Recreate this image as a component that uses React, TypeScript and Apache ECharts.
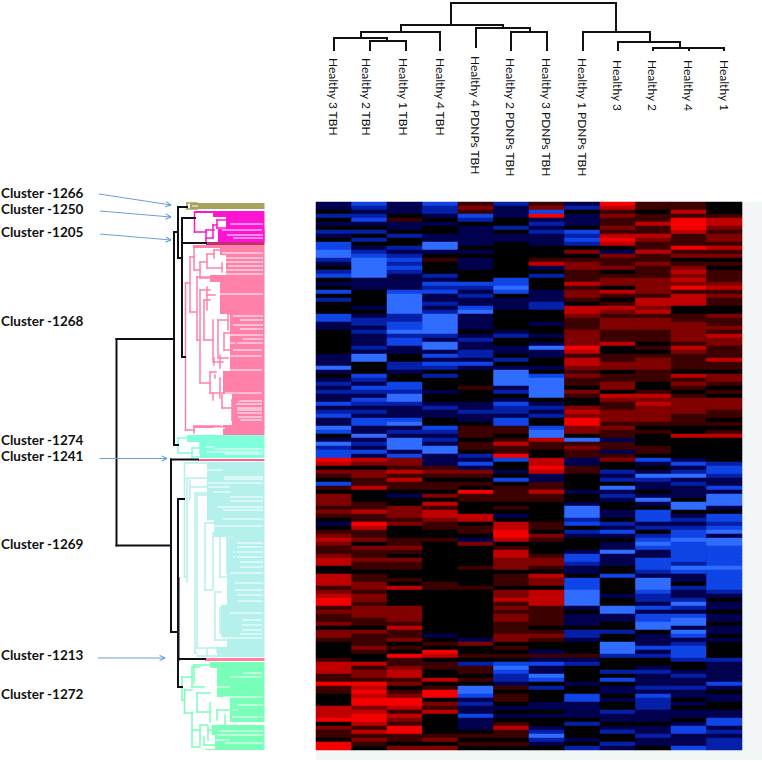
import React, { useEffect, useRef } from "react";
import * as echarts from "echarts";

const sampleLabels = [
  "Healthy 3 TBH", "Healthy 2 TBH", "Healthy 1 TBH", "Healthy 4 TBH",
  "Healthy 4 PDNPs TBH", "Healthy 2 PDNPs TBH", "Healthy 3 PDNPs TBH", "Healthy 1 PDNPs TBH",
  "Healthy 3", "Healthy 2", "Healthy 4", "Healthy 1",
];
const sampleLabelX = [333, 366, 403, 440, 475, 510, 546, 582, 617, 652, 688, 724];
const sampleLabelTop = [58, 58, 58, 58, 56, 58, 58, 58, 60, 60, 60, 60];

// Expression, one character per row: d c b a = strong to weak blue, 0 = black, 1 2 3 4 = weak to strong red.
const col01 = "aa0b0a0ba0ccddba0bc0a0c0b000ccaa0" + "00000aaada0ababaacabcaadc0adbcc4302" + "10c102221210a012321123300333123" + "4412" + "1120221000013331141100033340211044";
const col02 = "cbabca0b0b0abcdddddaaa0000a0abbab" + "aaabadd000cbacbacbabaccaadabaca3202" + "21130001131143112021121101122122122" + "2110211121003122143434423443131210";
const col03 = "aaa01aa0b00babcbcbaaaacdddddbbccd" + "bccaa00bba00ccbddbaaacdabadddac2213" + "13110a00222120001121021100103000022" + "2213112010411233120124431321441102";
const col04 = "cbba0a00aadda01000bacbcaababddddd" + "baddacacb0b000a00abaa00cbabaddaaa12" + "10110203133211001000000000011000000" + "00000a0104301100301440213000001202";
const col05 = "121cb0aaaaa0a0aaa000cbabaacdaaaa0" + "abaabbaca00001000aabaa01110110baca2" + "1010411000330110a200000100001000000" + "000000a20010b11010ddcabaacaaa01010";
const col06 = "baaa00b0aa000000000ccdc0aaa00000a" + "b00aa0b0addddab0acbbacc11013114c00a" + "0c01111010a033443013322201110223121" + "221112201010cdcbba10110a0a01311010";
const col07 = "12c4ababaaa00013a0b000aaabb000a00" + "a0adaa00a0cddddd0abab00cdd311003343" + "aa113110000011021000122103220333311" + "111012100a1acaadc0b000aa0a00abdba0";
const col08 = "ab0aaa0cbcb0201221113122103321112" + "22243133212110210023244220d1211aa11" + "0000a00adddbc0ba000accbaa0cccdddda0" + "aaa0bba0001ab0000a00ccaaaa0b000a0b";
const col09 = "431211213430a21120122031013212221" + "11300112201122032112221211a11a1200b" + "ab0daba00aa0baca0aadaaa00c0000a00dd" + "aa00b00dddb000b0c0aa0a00baa0ab00ba";
const col10 = "110113113211311211122221332312221" + "11010122211100132322221010001 10ca0a".replace(" ", "") + "dbaa0ada0cccab0bcdcaacccbadddcbbaca" + "ccdd0aaacab00abaaabacbbbaaa0aabaa0";
const col11 = "113144431114120123232413330011222" + "2213211110312101222211100300000acab" + "dabaaa0dd0ababccdcccccbdcaa0baabdba" + "cddadcabcccb00abaabaa0a0aa0accaaac";
const col12 = "000133212213120101112312110021121" + "32211131102210102221101013000000bcc" + "baacaddda0ccbcdaddcccccdcccccba0aa0" + "aa0aa0a0000baaaaaca0aa00aaccababbb";
const columns = [col01, col02, col03, col04, col05, col06, col07, col08, col09, col10, col11, col12];
const rowCount = 137;
const levelOf: Record<string, number> = { d: -4, c: -3, b: -2, a: -1, "0": 0, "1": 1, "2": 2, "3": 3, "4": 4 };

// Top dendrogram links: x1, y1, x2, y2.
const sampleTree = [
  [451, 3, 616, 3], [451, 3, 451, 25], [616, 3, 616, 32],
  [401, 25, 503, 25], [401, 25, 401, 32], [503, 25, 503, 28],
  [361, 32, 440, 32], [440, 32, 440, 50], [361, 32, 361, 38],
  [334, 38, 387, 38], [334, 38, 334, 50], [387, 38, 387, 41],
  [370, 41, 406, 41], [370, 41, 370, 50], [406, 41, 406, 50],
  [476, 28, 530, 28], [476, 28, 476, 47], [530, 28, 530, 32],
  [511, 32, 547, 32], [511, 32, 511, 50], [547, 32, 547, 50],
  [583, 32, 650, 32], [583, 32, 583, 50], [650, 32, 650, 42],
  [618, 42, 680, 42], [618, 42, 618, 50], [680, 42, 680, 48],
  [653, 48, 724, 48], [653, 48, 653, 50], [689, 48, 689, 50], [724, 48, 724, 50],
];

// Row dendrogram backbone: x1, y1, x2, y2.
const backboneTree = [
  [116.5, 339, 174, 339], [116.5, 339, 116.5, 545.5], [116.5, 545.5, 171, 545.5],
  [174, 232, 174, 339], [174, 339, 174, 445], [174, 232, 178, 232], [174, 445, 178, 445],
  [178, 207, 178, 258], [178, 207, 187, 207], [178, 258, 182, 258],
  [182, 218, 182, 357], [182, 218, 195, 218], [182, 357, 185, 357], [183, 243, 206, 243],
  [171, 459.5, 198, 459.5], [171, 459.5, 171, 632], [171, 632, 178, 632],
  [178, 499, 178, 687], [178, 499, 184, 499], [178, 659, 205, 659], [178, 687, 182, 687],
  [178.5, 578, 178.5, 660],
];

const olive = "#a8a35a";
const oliveBlocks = [[190, 203, 209]];
const oliveGaps: number[][] = [[192, 206, 198]];
const oliveLinks = [[187, 203, 197, 203], [187, 209, 197, 209], [187, 203, 187, 209]];

const magenta = "#ff14d2";
const magentaBlocks = [[195, 211, 213], [213, 213, 217], [226, 217, 242], [218, 229, 242]];
const magentaGaps = [[200, 214, 210], [230, 224, 263], [222, 230, 262], [227, 235, 263], [233, 238, 263]];
const magentaLinks = [
  [194.5, 212, 194.5, 232], [194.5, 232, 206, 232], [206, 230, 206, 243], [206, 230, 214, 230],
  [206, 238, 213, 238], [213, 225, 213, 238], [213, 225, 217, 225], [217, 220, 217, 228],
  [217, 220, 227, 220], [217, 228, 230, 228],
];

const darkPink = "#c03070";
const darkPinkBlocks = [[206, 242, 245]];

const pink = "#ff80a8";
const pinkBlocks = [
  [193, 245, 248], [220, 248, 255], [226, 255, 275], [210, 275, 282], [220, 282, 314],
  [230, 314, 371], [223, 371, 394], [232, 394, 425], [223, 425, 435], [194, 426, 428],
];
const pinkGaps = [
  [222, 253, 263], [226, 258, 263], [226, 262, 263], [228, 266, 263], [225, 270, 263], [225, 274, 263],
  [207, 294, 263], [233, 316, 263], [240, 320, 263], [233, 325, 263], [240, 329, 263], [227, 335, 263],
  [243, 339, 263], [226, 343, 263], [233, 350, 262], [230, 356, 262], [213, 370, 262], [225, 393, 262],
  [238, 401, 262], [236, 404, 262], [237, 408, 262], [237, 410, 262], [237, 413, 262], [238, 417, 262],
  [240, 420, 262], [214, 428, 225],
];
const pinkLinks = [
  [185.5, 283, 185.5, 430], [185.5, 283, 190, 283], [185.5, 430, 194, 430],
  [190, 257, 190, 312], [190, 257, 194, 257], [190, 312, 196, 312],
  [194, 247, 194, 270], [194, 247, 200, 247], [194, 270, 200, 270],
  [200, 262, 200, 278], [200, 262, 207, 262], [200, 278, 210, 278],
  [207, 254, 207, 268], [207, 254, 214, 254], [207, 268, 222, 268],
  [214, 250, 214, 258], [214, 250, 222, 250], [222, 263, 222, 272],
  [197, 277, 197, 340], [197, 277, 210, 277], [197, 340, 200, 340],
  [200, 290, 200, 383], [200, 383, 210, 383], [200, 290, 210, 290],
  [204, 300, 204, 340], [204, 300, 210, 300], [204, 340, 213, 340],
  [207, 287, 207, 310], [207, 295, 215, 295],
  [213, 320, 213, 362], [218, 320, 218, 358], [218, 320, 228, 320], [218, 358, 228, 358],
  [224, 333, 224, 350], [224, 333, 233, 333], [224, 350, 232, 350],
  [228, 312, 228, 330], [228, 314, 235, 314], [236, 340, 236, 347],
  [214, 358, 214, 365], [214, 362, 223, 362], [220, 355, 220, 368],
  [210, 372, 210, 393], [210, 372, 216, 372], [210, 393, 220, 393], [215, 375, 215, 378],
  [220, 378, 220, 398], [213, 393, 213, 400], [222, 393, 222, 408], [222, 408, 232, 408],
  [232, 400, 232, 420], [232, 400, 240, 400], [232, 420, 240, 420], [236, 407, 236, 413],
  [194, 426, 194, 433], [194, 426, 220, 426],
];

const aqua = "#80ffdc";
const aquaBlocks = [[187, 435, 442], [200, 442, 458]];
const aquaGaps = [[206, 447, 214], [214, 449, 263], [207, 452, 263], [225, 454, 263]];
const aquaLinks = [
  [178, 438, 178, 453], [178, 438, 187, 438], [178, 453, 192, 453], [192, 448, 192, 458],
  [192, 448, 200, 448], [192, 457, 205, 457], [200, 443, 200, 453],
];

const rose = "#ff6088";
const roseBlocks = [[198, 459, 461]];

const paleCyan = "#b4f0ec";
const paleCyanBlocks = [[207, 462, 520], [214, 520, 537], [227, 537, 605], [221, 605, 637], [227, 637, 647], [217, 647, 657]];
const paleCyanGaps = [
  [207, 470, 223], [224, 477, 263], [224, 479, 263], [208, 483, 263], [208, 487, 230], [213, 492, 231],
  [230, 497, 263], [230, 501, 263], [217, 507, 263], [223, 510, 263], [223, 519, 263], [214, 526, 263],
  [227, 537, 233], [237, 543, 263], [237, 547, 263], [233, 552, 263], [233, 557, 263], [240, 562, 263],
  [240, 567, 263], [230, 573, 263], [235, 583, 263], [235, 590, 263], [237, 595, 263], [237, 601, 263],
  [230, 613, 263], [242, 620, 262], [242, 625, 262], [242, 630, 262], [240, 634, 262], [225, 638, 262],
];
const paleCyanLinks = [
  [184.5, 463, 184.5, 577], [184.5, 463, 207, 463], [184.5, 577, 187, 577],
  [187, 478, 187, 582], [187, 478, 207, 478], [190, 480, 190, 500], [190, 487, 207, 487],
  [195, 493, 195, 653], [195, 493, 213, 493], [195, 653, 197, 653], [197, 495, 197, 648], [197, 495, 214, 495],
  [205, 523, 205, 590], [205, 523, 214, 523], [205, 590, 213, 590], [208, 500, 208, 520], [208, 510, 222, 510],
  [213, 533, 213, 590], [213, 533, 220, 533], [220, 530, 220, 577], [220, 530, 227, 530], [220, 577, 232, 577],
  [227, 537, 227, 573], [227, 537, 232, 537], [232, 543, 232, 567], [236, 545, 236, 567], [232, 555, 240, 555],
  [215, 592, 215, 640], [215, 592, 221, 592], [215, 640, 227, 640], [220, 608, 220, 633], [220, 608, 238, 608],
  [224, 617, 224, 638], [224, 617, 238, 617], [238, 617, 238, 633],
  [197, 648, 217, 648], [197, 656, 262, 656], [207, 650, 207, 656], [217, 647, 217, 652],
];

const salmon = "#ff80a0";
const salmonBlocks = [[205, 658, 661]];

const green = "#78ffb8";
const greenBlocks = [[210, 662, 668], [217, 668, 697], [230, 697, 722], [212, 725, 735], [215, 735, 750], [205, 749, 750]];
const greenGaps = [
  [243, 673, 262], [230, 677, 262], [200, 682, 215], [205, 687, 230], [223, 697, 263], [237, 705, 263],
  [230, 710, 238], [232, 717, 263], [217, 731, 263], [217, 735, 263], [205, 740, 230], [225, 743, 263],
];
const greenLinks = [
  [182, 677, 182, 700], [182, 677, 192, 677], [182, 700, 184.5, 700],
  [192, 667, 192, 687], [192, 667, 200, 667], [192, 687, 204, 687], [194, 665, 194, 683], [194, 665, 210, 665],
  [184.5, 690, 184.5, 713], [184.5, 690, 192, 690], [184.5, 713, 192, 713],
  [192, 713, 192, 747], [192, 747, 200, 747], [197, 693, 197, 712], [197, 693, 210, 693], [197, 712, 210, 712],
  [210, 703, 210, 722], [217, 710, 217, 720], [217, 710, 232, 710], [225, 715, 225, 727],
  [200, 725, 200, 745], [200, 725, 208, 725], [208, 727, 208, 740], [208, 730, 217, 730],
  [204, 737, 204, 745], [204, 745, 225, 745], [192, 730, 200, 730],
];

const clusterNames = [
  "Cluster -1266", "Cluster -1250", "Cluster -1205", "Cluster -1268", "Cluster -1274",
  "Cluster -1241", "Cluster -1269", "Cluster -1213", "Cluster -1272",
];
const clusterRows = [192.5, 209, 232, 321, 440, 456, 544, 655, 693.5];

// Pointers from the cluster names to the dendrogram: x1, y1, x2, y2.
const pointers = [
  [99, 194, 171, 205], [100, 211, 171, 217], [100, 234, 171, 240],
  [99.5, 458.5, 167, 458.5], [98, 658, 165, 658],
];

const leafEnd = 264.5;

function lineSeries(name: string, links: number[][], color: string, width: number, z: number) {
  return {
    type: "custom", name, xAxisIndex: 1, yAxisIndex: 1, z, silent: true, clip: false, data: links,
    renderItem: (_p: any, api: any) => {
      const a = api.coord([api.value(0), api.value(1)]);
      const b = api.coord([api.value(2), api.value(3)]);
      return { type: "line", shape: { x1: a[0], y1: a[1], x2: b[0], y2: b[1] }, style: { stroke: color, lineWidth: width, lineCap: "square" } };
    },
  };
}

function blockSeries(name: string, blocks: number[][], color: string, z: number) {
  return {
    type: "custom", name, xAxisIndex: 1, yAxisIndex: 1, z, silent: true, clip: false, data: blocks,
    renderItem: (_p: any, api: any) => {
      const a = api.coord([api.value(0), api.value(1)]);
      const b = api.coord([leafEnd, api.value(2)]);
      return { type: "rect", shape: { x: a[0], y: a[1], width: b[0] - a[0], height: b[1] - a[1] }, style: { fill: color } };
    },
  };
}

function gapSeries(name: string, gaps: number[][], z: number) {
  const links = gaps.map((g) => [g[0], g[1], g[2], g[1]]);
  return {
    type: "custom", name, xAxisIndex: 1, yAxisIndex: 1, z, silent: true, clip: false, data: links,
    renderItem: (_p: any, api: any) => {
      const a = api.coord([api.value(0), api.value(1)]);
      const b = api.coord([api.value(2), api.value(3)]);
      return { type: "line", shape: { x1: a[0], y1: a[1], x2: b[0], y2: b[1] }, style: { stroke: "#ffffff", lineWidth: 1 } };
    },
  };
}

function cluster(name: string, color: string, blocks: number[][], gaps: number[][], links: number[][]) {
  return [
    blockSeries(name + " leaves", blocks, color, 3),
    gapSeries(name + " gaps", gaps, 4),
    lineSeries(name + " links", links, color, 1.5, 5),
  ];
}

export default function App() {
  const ref = useRef<HTMLDivElement>(null);
  useEffect(() => {
    const chart = echarts.init(ref.current!, undefined, { renderer: "svg" });
    const cells: number[][] = [];
    columns.forEach((text, c) => {
      for (let r = 0; r < rowCount && r < text.length; r++) cells.push([c, r, levelOf[text[r]] ?? 0]);
    });
    const rows = Array.from({ length: rowCount }, (_, i) => String(i));
    chart.setOption({
      animation: false,
      backgroundColor: "#ffffff",
      graphic: [
        { type: "rect", z: -1, shape: { x: 742, y: 202, width: 20, height: 558 }, style: { fill: "#f3f6f6" } },
        { type: "rect", z: -1, shape: { x: 316, y: 750, width: 426, height: 10 }, style: { fill: "#f3f6f6" } },
      ],
      grid: [
        { left: 316, top: 202, width: 426, height: 548, show: true, backgroundColor: "#000000", borderWidth: 0, outerBoundsMode: "none" },
        { left: 0, top: 0, width: 762, height: 762, outerBoundsMode: "none" },
      ],
      xAxis: [
        { type: "category", gridIndex: 0, position: "top", data: sampleLabels, show: false },
        { type: "value", gridIndex: 1, min: 0, max: 762, show: false },
      ],
      yAxis: [
        { type: "category", gridIndex: 0, inverse: true, data: rows, show: false },
        { type: "value", gridIndex: 1, min: 0, max: 762, inverse: true, show: false },
      ],
      visualMap: {
        show: false, type: "continuous", seriesIndex: 0, dimension: 2, min: -4, max: 4,
        inRange: { color: ["#2f6cff", "#0f44e6", "#0520a8", "#00004e", "#000000", "#3c0000", "#800000", "#c00000", "#f40000"] },
      },
      series: [
        { type: "heatmap", name: "Expression", xAxisIndex: 0, yAxisIndex: 0, data: cells, progressive: 0, silent: true, itemStyle: { borderWidth: 0 }, emphasis: { disabled: true } },
        lineSeries("Sample tree", sampleTree, "#111111", 2, 6),
        {
          type: "custom", name: "Sample names", xAxisIndex: 1, yAxisIndex: 1, z: 9, silent: true, clip: false,
          data: sampleLabelX.map((x, i) => [x, sampleLabelTop[i]]),
          renderItem: (p: any, api: any) => {
            const a = api.coord([api.value(0), api.value(1)]);
            return {
              type: "text", x: a[0], y: a[1], rotation: -Math.PI / 2,
              style: { text: sampleLabels[p.dataIndex], fontFamily: "Lato", fontSize: 12, fill: "#111111", textAlign: "left", textVerticalAlign: "middle" },
            };
          },
        },
        ...cluster("1266", olive, oliveBlocks, oliveGaps, oliveLinks),
        ...cluster("1250", magenta, magentaBlocks, magentaGaps, magentaLinks),
        ...cluster("1205", darkPink, darkPinkBlocks, [], []),
        ...cluster("1268", pink, pinkBlocks, pinkGaps, pinkLinks),
        ...cluster("1274", aqua, aquaBlocks, aquaGaps, aquaLinks),
        ...cluster("1241", rose, roseBlocks, [], []),
        ...cluster("1269", paleCyan, paleCyanBlocks, paleCyanGaps, paleCyanLinks),
        ...cluster("1213", salmon, salmonBlocks, [], []),
        ...cluster("1272", green, greenBlocks, greenGaps, greenLinks),
        lineSeries("Row tree", backboneTree, "#101018", 2, 7),
        {
          ...lineSeries("Pointers", pointers, "#6a9fd8", 1, 8),
          renderItem: (_p: any, api: any) => {
            const a = api.coord([api.value(0), api.value(1)]);
            const b = api.coord([api.value(2), api.value(3)]);
            const t = Math.atan2(b[1] - a[1], b[0] - a[0]);
            const s = 6;
            const p1 = [b[0] - s * Math.cos(t - 0.45), b[1] - s * Math.sin(t - 0.45)];
            const p2 = [b[0] - s * Math.cos(t + 0.45), b[1] - s * Math.sin(t + 0.45)];
            return {
              type: "group",
              children: [
                { type: "line", shape: { x1: a[0], y1: a[1], x2: b[0], y2: b[1] }, style: { stroke: "#6a9fd8", lineWidth: 1 } },
                { type: "polyline", shape: { points: [p1, b, p2] }, style: { stroke: "#4a90e2", fill: "none", lineWidth: 1 } },
              ],
            };
          },
        },
        {
          type: "custom", name: "Cluster names", xAxisIndex: 1, yAxisIndex: 1, z: 9, silent: true, clip: false,
          data: clusterRows.map((y) => [1, y]),
          renderItem: (p: any, api: any) => {
            const a = api.coord([api.value(0), api.value(1)]);
            return {
              type: "text", x: a[0], y: a[1],
              style: { text: clusterNames[p.dataIndex], fontFamily: "Lato", fontWeight: "bold", fontSize: 13.5, fill: "#111111", textAlign: "left", textVerticalAlign: "middle" },
            };
          },
        },
      ],
    });
    return () => chart.dispose();
  }, []);
  return <div ref={ref} style={{ position: "fixed", left: 0, top: 0, width: 762, height: 762 }} />;
}
